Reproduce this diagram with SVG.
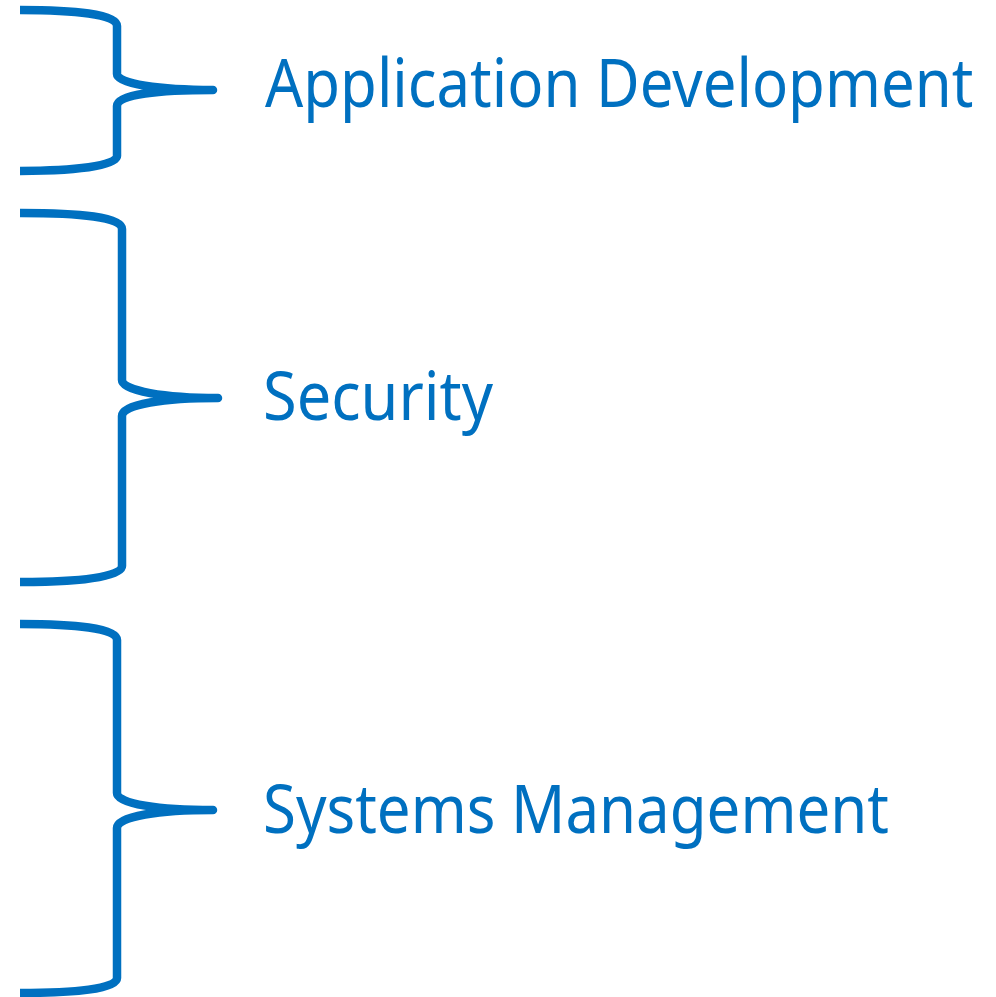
<svg xmlns="http://www.w3.org/2000/svg" width="996" height="997" viewBox="0 0 996 997">
<defs>
<clipPath id="clipL"><rect x="20" y="0" width="976" height="997"/></clipPath>
</defs>
<style>
.brace{fill:none;stroke:#0070C0;stroke-width:8.5;stroke-linecap:round;stroke-linejoin:round}
.lbl{font-family:"Noto Sans","Liberation Sans",sans-serif;font-size:68px;fill:#0070C0}
</style>
<rect width="996" height="997" fill="#ffffff"/>
<g id="connectors" clip-path="url(#clipL)">
<path class="brace" d="M16,10 C75,10 117,14 117,26 L117,74 C117,84 160,90 213,90 C160,90 117,94 117,106 L117,156 C117,166 75,171 16,171"/>
<path class="brace" d="M21,213 C80,213 122,217 122,229 L122,380 C122,391 165,398 218,398 C165,398 122,404 122,416 L122,566 C122,577 80,582 21,582"/>
<path class="brace" d="M16,624 C75,624 117,628 117,640 L117,793 C117,804 160,810 213,810 C160,810 117,816 117,828 L117,978 C117,989 75,993 16,993"/>
</g>
<g id="node-appdev" transform="translate(265,107) scale(0.9,1)"><text class="lbl" x="0" y="0" textLength="787" lengthAdjust="spacingAndGlyphs">Application Development</text></g>
<g id="node-security"><text class="lbl" x="263" y="420" textLength="230" lengthAdjust="spacingAndGlyphs">Security</text></g>
<g id="node-sysmgmt"><text class="lbl" x="263" y="833" textLength="626" lengthAdjust="spacingAndGlyphs">Systems Management</text></g>
</svg>
